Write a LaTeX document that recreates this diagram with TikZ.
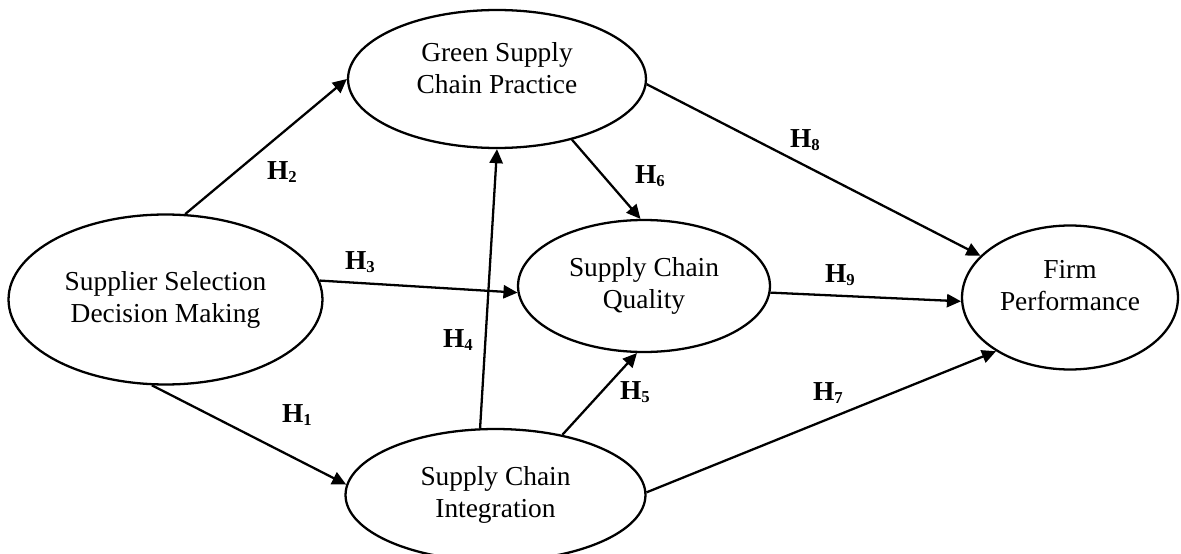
\documentclass[tikz,border=0pt]{standalone}
\usepackage{fontspec}
\setmainfont{Liberation Serif}
\usetikzlibrary{shapes.geometric,arrows.meta}
\newcommand{\hlab}[1]{\textbf{H\raisebox{-.2ex}{\fontsize{9.5}{10}\selectfont #1}}}

\begin{document}
\begin{tikzpicture}[x=0.02cm,y=-0.02cm,
		construct/.style={draw,ellipse,line width=1.3pt,inner sep=0pt,align=center,font=\fontsize{15.6}{18.2}\selectfont},
		hypo/.style={line width=1.3pt,-{Triangle[length=8pt,width=7.5pt]}},
		hname/.style={font=\fontsize{15.6}{18}\selectfont}]
			\useasboundingbox (0,0) rectangle (1181,554);
			% constructs
			\node[construct,minimum width=6.28cm,minimum height=3.4cm] (ss) at (165.5,299.5) {Supplier Selection\\Decision Making};
			\node[construct,minimum width=5.96cm,minimum height=2.76cm,text depth=12.5pt] (gscp) at (497,79) {Green Supply\\Chain Practice};
			\node[construct,minimum width=5.04cm,minimum height=2.64cm] (scq) at (644,286) {Supply Chain\\Quality};
			\node[construct,minimum width=4.32cm,minimum height=2.88cm,text depth=14.2pt] (fp) at (1070,297.5) {Firm\\Performance};
			\node[construct,minimum width=6cm,minimum height=2.64cm] (sci) at (495.5,495) {Supply Chain\\Integration};
			% hypotheses
			\draw[hypo] (ss.261) -- (sci.176);
			\draw[hypo] (ss.77) -- (gscp.180);
			\draw[hypo] (ss.7) -- (scq.183);
			\draw[hypo] (sci.103) -- (gscp.270);
			\draw[hypo] (sci.42) -- (scq.264);
			\draw[hypo] (gscp.321) -- (scq.93);
			\draw[hypo] (sci.1) -- (fp.216);
			\draw[hypo] (gscp.358) -- (fp.155);
			\draw[hypo] (scq.357) -- (fp.182);
			% labels
			\node[hname] (h1) at (297,415) {\hlab{1}};
			\node[hname] (h2) at (282,172) {\hlab{2}};
			\node[hname] (h3) at (360,262) {\hlab{3}};
			\node[hname] (h4) at (458,340) {\hlab{4}};
			\node[hname] (h5) at (635,392) {\hlab{5}};
			\node[hname] (h6) at (650,176) {\hlab{6}};
			\node[hname] (h7) at (828,393) {\hlab{7}};
			\node[hname] (h8) at (805,140) {\hlab{8}};
			\node[hname] (h9) at (840,275) {\hlab{9}};
		\end{tikzpicture}
\end{document}
